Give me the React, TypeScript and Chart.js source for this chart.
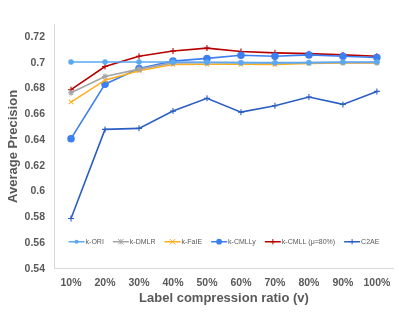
import React, { useEffect, useRef } from "react";
import { Chart, registerables } from "chart.js";

Chart.register(...registerables);

const categories = ["10%", "20%", "30%", "40%", "50%", "60%", "70%", "80%", "90%", "100%"];
const yTickValues = [0.54, 0.56, 0.58, 0.6, 0.62, 0.64, 0.66, 0.68, 0.7, 0.72];

const kORI = [0.7005, 0.7005, 0.7005, 0.7005, 0.7003, 0.7, 0.7, 0.7, 0.7005, 0.7005];
const kDMLR = [0.6766, 0.6893, 0.695, 0.6998, 0.7, 0.7, 0.6995, 0.7, 0.7, 0.7];
const kFaIE = [0.6694, 0.6864, 0.6937, 0.6986, 0.6988, 0.6988, 0.6986, 0.6993, 0.6998, 0.6998];
const kCMLLy = [0.641, 0.6833, 0.6955, 0.7012, 0.7033, 0.7058, 0.705, 0.706, 0.705, 0.704];
const kCMLL = [0.679, 0.697, 0.705, 0.709, 0.7113, 0.7086, 0.7076, 0.707, 0.706, 0.705];
const c2ae = [0.579, 0.6482, 0.649, 0.6624, 0.6723, 0.6616, 0.6665, 0.6733, 0.6676, 0.6777];

const seriesNames = ["k-ORI", "k-DMLR", "k-FaIE", "k-CMLLy", "k-CMLL (μ=80%)", "C2AE"];
const seriesData = [kORI, kDMLR, kFaIE, kCMLLy, kCMLL, c2ae];
const seriesColors = ["#5AA9F2", "#A5A5A5", "#FFAE1F", "#3C7FF0", "#B80000", "#2B5EC2"];
const seriesPoints = ["circle", "star", "crossRot", "circle", "cross", "cross"];
const seriesRadius = [2.2, 3, 3, 3.2, 3, 3];

const FONT = "'Liberation Sans', Arial, sans-serif";
const TEXT = "#595959";

const insideLegend = {
  id: "insideLegend",
  afterDatasetsDraw(chart: any) {
    const ctx = chart.ctx;
    const area = chart.chartArea;
    const y = chart.scales.y.getPixelForValue(0.561);
    ctx.save();
    ctx.font = `7px ${FONT}`;
    ctx.textBaseline = "middle";
    const lineLen = 16;
    const gap = 9;
    const widths = seriesNames.map((n) => lineLen + 1 + ctx.measureText(n).width);
    const total = widths.reduce((a, b) => a + b, 0) + gap * (seriesNames.length - 1);
    let x = (area.left + area.right) / 2 - total / 2;
    seriesNames.forEach((name, i) => {
      const c = seriesColors[i];
      ctx.strokeStyle = c;
      ctx.fillStyle = c;
      ctx.lineWidth = 1.5;
      ctx.beginPath();
      ctx.moveTo(x, y);
      ctx.lineTo(x + lineLen, y);
      ctx.stroke();
      const cx = x + lineLen / 2;
      const r = seriesRadius[i] * 0.9;
      const ps = seriesPoints[i];
      ctx.lineWidth = 1;
      ctx.beginPath();
      if (ps === "circle") {
        ctx.arc(cx, y, r, 0, Math.PI * 2);
        ctx.fill();
      } else if (ps === "cross") {
        ctx.moveTo(cx, y - r);
        ctx.lineTo(cx, y + r);
        ctx.moveTo(cx - r, y);
        ctx.lineTo(cx + r, y);
        ctx.stroke();
      } else if (ps === "crossRot") {
        ctx.moveTo(cx - r, y - r);
        ctx.lineTo(cx + r, y + r);
        ctx.moveTo(cx - r, y + r);
        ctx.lineTo(cx + r, y - r);
        ctx.stroke();
      } else {
        ctx.moveTo(cx - r, y - r);
        ctx.lineTo(cx + r, y + r);
        ctx.moveTo(cx - r, y + r);
        ctx.lineTo(cx + r, y - r);
        ctx.moveTo(cx, y - r);
        ctx.lineTo(cx, y + r);
        ctx.stroke();
      }
      ctx.fillStyle = TEXT;
      ctx.fillText(name, x + lineLen + 1, y);
      x += widths[i] + gap;
    });
    ctx.restore();
  },
};

export default function App() {
  const ref = useRef<HTMLCanvasElement>(null);
  useEffect(() => {
    document.body.style.margin = "0";
    const chart = new Chart(ref.current as HTMLCanvasElement, {
      type: "line",
      data: {
        labels: categories,
        datasets: seriesNames.map((name, i) => ({
          label: name,
          data: seriesData[i],
          borderColor: seriesColors[i],
          backgroundColor: seriesColors[i],
          borderWidth: 1.6,
          pointStyle: seriesPoints[i] as any,
          pointRadius: seriesRadius[i],
          pointBorderWidth: 1.1,
          tension: 0,
        })),
      },
      options: {
        animation: false,
        responsive: false,
        maintainAspectRatio: false,
        layout: { padding: { left: 6, right: 1, top: 24, bottom: 10 } },
        plugins: {
          legend: { display: false },
          tooltip: { enabled: false },
        },
        scales: {
          x: {
            offset: true,
            grid: { display: false, drawTicks: false },
            border: { color: "#D9D9D9", width: 1 },
            ticks: { color: TEXT, font: { family: FONT, size: 10.5, weight: "bold" }, padding: 8, maxRotation: 0 },
            title: {
              display: true,
              text: "Label compression ratio (v)",
              color: TEXT,
              font: { family: FONT, size: 13, weight: "bold" },
              padding: { top: -7, bottom: 0 },
            },
          },
          y: {
            min: 0.54,
            max: 0.73,
            grid: { display: false, drawTicks: false },
            border: { color: "#D9D9D9", width: 1 },
            afterBuildTicks: (scale: any) => {
              scale.ticks = yTickValues.map((v) => ({ value: v }));
            },
            ticks: {
              color: TEXT,
              font: { family: FONT, size: 10.5, weight: "bold" },
              padding: 9,
              callback: (v: any) => String(Math.round(Number(v) * 100) / 100),
            },
            title: {
              display: true,
              text: "Average Precision",
              color: TEXT,
              font: { family: FONT, size: 13, weight: "bold" },
              padding: { top: 0, bottom: -6 },
            },
          },
        },
      },
      plugins: [insideLegend],
    });
    return () => chart.destroy();
  }, []);
  return (
    <div style={{ width: 399, height: 316 }}>
      <canvas ref={ref} width={399} height={316} style={{ display: "block" }} />
    </div>
  );
}
